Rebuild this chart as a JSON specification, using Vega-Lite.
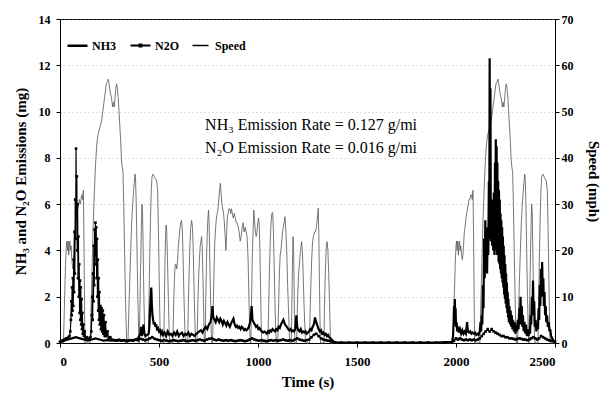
{
"$schema": "https://vega.github.io/schema/vega-lite/v6.json",
"width": 495,
"height": 324,
"autosize": {"type": "none"},
"padding": {"left": 60, "top": 19, "right": 49, "bottom": 54},
"background": "white",
"datasets": {
"speed": [
{"t":0,"v":0},{"t":17,"v":0},{"t":20,"v":4},{"t":24,"v":11},{"t":28,"v":17},{"t":32,"v":21},{"t":35,"v":22},{"t":38,"v":20},{"t":41,"v":22},{"t":44,"v":19},{"t":47,"v":21},{"t":50,"v":22},{"t":53,"v":20},{"t":56,"v":21},{"t":60,"v":18},{"t":64,"v":16},{"t":67,"v":17},{"t":70,"v":21},{"t":74,"v":24},{"t":78,"v":25},{"t":82,"v":27},{"t":86,"v":28},{"t":90,"v":29},{"t":94,"v":30},{"t":98,"v":31},{"t":102,"v":30},{"t":106,"v":31},{"t":110,"v":32},{"t":114,"v":31},{"t":118,"v":33},{"t":121,"v":22},{"t":124,"v":8},{"t":126,"v":0},
{"t":152,"v":0},{"t":156,"v":6},{"t":162,"v":16},{"t":168,"v":26},{"t":174,"v":33},{"t":180,"v":39},{"t":186,"v":43},{"t":192,"v":45},{"t":198,"v":46},{"t":204,"v":47},{"t":210,"v":48},{"t":216,"v":50},{"t":222,"v":52},{"t":228,"v":54},{"t":234,"v":56},{"t":240,"v":56.5},{"t":244,"v":57},{"t":248,"v":56},{"t":254,"v":54},{"t":260,"v":53},{"t":266,"v":51},{"t":270,"v":52},{"t":274,"v":51},{"t":278,"v":53},{"t":282,"v":55},{"t":286,"v":56},{"t":290,"v":55},{"t":294,"v":53},{"t":298,"v":50},{"t":302,"v":47},{"t":306,"v":44},{"t":310,"v":40},{"t":314,"v":38},{"t":318,"v":37},{"t":322,"v":30},{"t":326,"v":20},{"t":330,"v":11},{"t":334,"v":4},{"t":337,"v":0},
{"t":343,"v":0},{"t":347,"v":6},{"t":352,"v":13},{"t":357,"v":20},{"t":362,"v":26},{"t":367,"v":30},{"t":372,"v":33},{"t":376,"v":35},{"t":379,"v":36.5},{"t":382,"v":35},{"t":385,"v":30},{"t":389,"v":20},{"t":393,"v":10},{"t":397,"v":3},{"t":400,"v":0},{"t":403,"v":6},{"t":407,"v":16},{"t":411,"v":25},{"t":414,"v":30},{"t":417,"v":28},{"t":420,"v":20},{"t":424,"v":9},{"t":428,"v":2},{"t":431,"v":0},
{"t":446,"v":0},{"t":449,"v":8},{"t":453,"v":18},{"t":457,"v":27},{"t":461,"v":33},{"t":465,"v":36},{"t":470,"v":36.5},{"t":476,"v":36},{"t":482,"v":35.5},{"t":488,"v":35},{"t":493,"v":33},{"t":497,"v":25},{"t":501,"v":14},{"t":505,"v":4},{"t":508,"v":0},
{"t":524,"v":0},{"t":527,"v":8},{"t":530,"v":17},{"t":533,"v":23},{"t":536,"v":25.5},{"t":539,"v":24},{"t":543,"v":18},{"t":547,"v":10},{"t":551,"v":3},{"t":554,"v":0},
{"t":570,"v":0},{"t":574,"v":8},{"t":578,"v":14},{"t":582,"v":17},{"t":586,"v":17},{"t":590,"v":16},{"t":594,"v":18},{"t":598,"v":21},{"t":602,"v":23},{"t":606,"v":25},{"t":610,"v":26},{"t":614,"v":26.5},{"t":618,"v":24},{"t":622,"v":18},{"t":626,"v":10},{"t":630,"v":4},{"t":634,"v":0},
{"t":645,"v":0},{"t":648,"v":8},{"t":652,"v":15},{"t":656,"v":21},{"t":660,"v":25},{"t":665,"v":26.5},{"t":669,"v":25},{"t":673,"v":20},{"t":677,"v":12},{"t":681,"v":5},{"t":685,"v":0},
{"t":692,"v":0},{"t":696,"v":8},{"t":700,"v":14},{"t":704,"v":18},{"t":708,"v":21},{"t":712,"v":22},{"t":715,"v":23},{"t":718,"v":21},{"t":722,"v":14},{"t":726,"v":6},{"t":729,"v":0},
{"t":733,"v":0},{"t":736,"v":9},{"t":740,"v":18},{"t":744,"v":24},{"t":747,"v":27},{"t":750,"v":28.7},{"t":753,"v":26},{"t":757,"v":17},{"t":761,"v":8},{"t":764,"v":2},{"t":767,"v":0},
{"t":771,"v":0},{"t":774,"v":8},{"t":778,"v":16},{"t":782,"v":22},{"t":786,"v":25},{"t":790,"v":27},{"t":794,"v":28},{"t":798,"v":29},{"t":802,"v":31},{"t":806,"v":33},{"t":810,"v":34.5},{"t":814,"v":32},{"t":818,"v":30},{"t":822,"v":29},{"t":826,"v":28},{"t":830,"v":26},{"t":834,"v":23},{"t":838,"v":20},{"t":841,"v":23},{"t":845,"v":27},{"t":849,"v":28},{"t":853,"v":29},{"t":857,"v":29},{"t":862,"v":28},{"t":866,"v":29},{"t":870,"v":28},{"t":875,"v":27},{"t":880,"v":28},{"t":885,"v":27},{"t":890,"v":26},{"t":895,"v":26},{"t":900,"v":25},{"t":905,"v":24},{"t":910,"v":22},{"t":915,"v":23},{"t":920,"v":25},{"t":925,"v":26},{"t":930,"v":24},{"t":935,"v":25},{"t":940,"v":24},{"t":945,"v":23},{"t":950,"v":18},{"t":954,"v":10},{"t":958,"v":3},{"t":961,"v":0},
{"t":964,"v":0},{"t":967,"v":8},{"t":971,"v":18},{"t":975,"v":24},{"t":979,"v":28.7},{"t":983,"v":26},{"t":987,"v":24},{"t":991,"v":23},{"t":995,"v":24},{"t":999,"v":26},{"t":1003,"v":27},{"t":1007,"v":25},{"t":1011,"v":17},{"t":1015,"v":7},{"t":1018,"v":0},
{"t":1050,"v":0},{"t":1054,"v":8},{"t":1058,"v":16},{"t":1062,"v":22},{"t":1066,"v":26},{"t":1070,"v":28},{"t":1074,"v":28.2},{"t":1078,"v":24},{"t":1082,"v":16},{"t":1086,"v":8},{"t":1090,"v":2},{"t":1093,"v":0},
{"t":1100,"v":0},{"t":1104,"v":8},{"t":1108,"v":15},{"t":1112,"v":19},{"t":1116,"v":20},{"t":1120,"v":22},{"t":1124,"v":24},{"t":1128,"v":25},{"t":1132,"v":26},{"t":1136,"v":27.3},{"t":1140,"v":25},{"t":1145,"v":20},{"t":1150,"v":12},{"t":1155,"v":6},{"t":1160,"v":0},
{"t":1168,"v":0},{"t":1171,"v":8},{"t":1174,"v":17},{"t":1177,"v":23},{"t":1180,"v":20},{"t":1183,"v":10},{"t":1186,"v":0},
{"t":1195,"v":0},{"t":1199,"v":8},{"t":1203,"v":13},{"t":1207,"v":16},{"t":1211,"v":18},{"t":1215,"v":20},{"t":1220,"v":21.9},{"t":1224,"v":20},{"t":1228,"v":15},{"t":1232,"v":9},{"t":1236,"v":4},{"t":1240,"v":0},
{"t":1260,"v":0},{"t":1264,"v":8},{"t":1268,"v":14},{"t":1272,"v":19},{"t":1276,"v":22},{"t":1280,"v":23},{"t":1285,"v":24},{"t":1290,"v":24},{"t":1295,"v":25},{"t":1300,"v":27},{"t":1304,"v":29.1},{"t":1307,"v":24},{"t":1310,"v":14},{"t":1313,"v":5},{"t":1316,"v":0},
{"t":1333,"v":0},{"t":1336,"v":8},{"t":1339,"v":14},{"t":1342,"v":18},{"t":1345,"v":21},{"t":1349,"v":21.9},{"t":1353,"v":20},{"t":1357,"v":15},{"t":1361,"v":9},{"t":1364,"v":4},{"t":1367,"v":0},
{"t":1985,"v":0},{"t":1988,"v":4},{"t":1992,"v":11},{"t":1996,"v":17},{"t":2000,"v":21},{"t":2003,"v":22},{"t":2006,"v":20},{"t":2009,"v":22},{"t":2012,"v":19},{"t":2015,"v":21},{"t":2018,"v":22},{"t":2021,"v":20},{"t":2024,"v":21},{"t":2028,"v":19},{"t":2032,"v":18},{"t":2035,"v":19},{"t":2038,"v":21},{"t":2042,"v":24},{"t":2046,"v":25},{"t":2050,"v":27},{"t":2054,"v":28},{"t":2058,"v":29},{"t":2062,"v":30},{"t":2066,"v":31},{"t":2070,"v":31},{"t":2074,"v":32},{"t":2078,"v":32},{"t":2082,"v":31},{"t":2086,"v":33},{"t":2089,"v":22},{"t":2092,"v":8},{"t":2094,"v":0},
{"t":2120,"v":0},{"t":2124,"v":6},{"t":2130,"v":16},{"t":2136,"v":26},{"t":2142,"v":33},{"t":2148,"v":39},{"t":2154,"v":43},{"t":2160,"v":45},{"t":2166,"v":46},{"t":2172,"v":47},{"t":2178,"v":48},{"t":2184,"v":50},{"t":2190,"v":52},{"t":2196,"v":54},{"t":2202,"v":56},{"t":2208,"v":56.5},{"t":2212,"v":57},{"t":2216,"v":56},{"t":2222,"v":54},{"t":2228,"v":53},{"t":2234,"v":51},{"t":2238,"v":52},{"t":2242,"v":51},{"t":2246,"v":53},{"t":2250,"v":55},{"t":2254,"v":56},{"t":2258,"v":55},{"t":2262,"v":53},{"t":2266,"v":50},{"t":2270,"v":47},{"t":2274,"v":44},{"t":2278,"v":40},{"t":2282,"v":38},{"t":2286,"v":37},{"t":2290,"v":30},{"t":2294,"v":20},{"t":2298,"v":11},{"t":2302,"v":4},{"t":2305,"v":0},
{"t":2311,"v":0},{"t":2315,"v":6},{"t":2320,"v":13},{"t":2325,"v":20},{"t":2330,"v":26},{"t":2335,"v":30},{"t":2340,"v":33},{"t":2344,"v":35},{"t":2347,"v":36.5},{"t":2350,"v":35},{"t":2353,"v":30},{"t":2357,"v":20},{"t":2361,"v":10},{"t":2365,"v":3},{"t":2368,"v":0},{"t":2371,"v":6},{"t":2375,"v":16},{"t":2379,"v":25},{"t":2382,"v":30},{"t":2385,"v":28},{"t":2388,"v":20},{"t":2392,"v":9},{"t":2396,"v":2},{"t":2399,"v":0},
{"t":2414,"v":0},{"t":2417,"v":8},{"t":2421,"v":18},{"t":2425,"v":27},{"t":2429,"v":33},{"t":2433,"v":36},{"t":2438,"v":36.5},{"t":2444,"v":36},{"t":2450,"v":35.5},{"t":2456,"v":35},{"t":2461,"v":33},{"t":2465,"v":25},{"t":2469,"v":14},{"t":2473,"v":4},{"t":2476,"v":0},{"t":2500,"v":0}
],
"nh3": [
{"t":0,"v":0.05},{"t":20,"v":0.1},{"t":40,"v":0.15},{"t":60,"v":0.2},{"t":80,"v":0.25},{"t":100,"v":0.2},{"t":120,"v":0.15},{"t":140,"v":0.1},{"t":160,"v":0.15},{"t":180,"v":0.2},{"t":200,"v":0.15},{"t":220,"v":0.1},{"t":240,"v":0.12},{"t":260,"v":0.1},{"t":280,"v":0.12},{"t":300,"v":0.1},{"t":320,"v":0.12},{"t":340,"v":0.1},{"t":360,"v":0.12},{"t":380,"v":0.15},{"t":395,"v":0.2},{"t":405,"v":0.4},{"t":410,"v":0.7},{"t":414,"v":0.3},{"t":418,"v":0.6},{"t":422,"v":0.8},{"t":426,"v":0.4},{"t":432,"v":0.3},{"t":440,"v":0.35},{"t":448,"v":0.4},{"t":452,"v":0.8},{"t":455,"v":1.5},{"t":458,"v":2.0},{"t":461,"v":2.4},{"t":464,"v":1.6},{"t":467,"v":1.2},{"t":470,"v":1.0},{"t":474,"v":0.8},{"t":478,"v":0.9},{"t":482,"v":0.7},{"t":486,"v":0.8},{"t":490,"v":0.6},{"t":495,"v":0.65},{"t":500,"v":0.5},{"t":505,"v":0.55},{"t":510,"v":0.4},{"t":515,"v":0.5},
{"t":520,"v":0.35},{"t":528,"v":0.45},{"t":536,"v":0.3},{"t":544,"v":0.5},{"t":552,"v":0.35},{"t":560,"v":0.4},{"t":568,"v":0.3},{"t":576,"v":0.45},{"t":584,"v":0.35},{"t":592,"v":0.5},{"t":600,"v":0.3},{"t":608,"v":0.4},{"t":616,"v":0.45},{"t":624,"v":0.3},{"t":632,"v":0.4},{"t":640,"v":0.35},{"t":648,"v":0.45},{"t":656,"v":0.3},{"t":664,"v":0.4},{"t":672,"v":0.35},{"t":680,"v":0.3},{"t":688,"v":0.4},{"t":696,"v":0.45},{"t":704,"v":0.5},{"t":712,"v":0.55},{"t":720,"v":0.45},{"t":728,"v":0.6},{"t":736,"v":0.7},{"t":744,"v":0.6},{"t":752,"v":0.8},{"t":760,"v":0.9},{"t":766,"v":1.2},{"t":770,"v":1.6},{"t":774,"v":1.1},{"t":780,"v":1.0},{"t":786,"v":0.9},{"t":792,"v":1.1},{"t":798,"v":1.0},{"t":804,"v":0.9},{"t":810,"v":1.05},{"t":816,"v":0.95},{"t":822,"v":0.8},{"t":828,"v":0.95},{"t":834,"v":0.85},{"t":840,"v":0.75},{"t":846,"v":0.9},{"t":852,"v":0.8},{"t":858,"v":0.7},{"t":864,"v":0.85},{"t":870,"v":0.95},{"t":876,"v":1.05},{"t":882,"v":0.8},{"t":888,"v":0.7},{"t":894,"v":0.75},{"t":900,"v":0.65},{"t":906,"v":0.7},{"t":912,"v":0.6},{"t":918,"v":0.7},{"t":924,"v":0.65},{"t":930,"v":0.55},{"t":936,"v":0.6},{"t":942,"v":0.55},{"t":948,"v":0.6},{"t":954,"v":0.7},{"t":960,"v":0.9},{"t":965,"v":1.3},{"t":968,"v":1.6},{"t":972,"v":1.0},{"t":978,"v":0.9},{"t":984,"v":0.8},{"t":990,"v":0.7},{"t":996,"v":0.75},{"t":1002,"v":0.6},{"t":1008,"v":0.65},{"t":1014,"v":0.55},{"t":1020,"v":0.5},{"t":1026,"v":0.45},{"t":1032,"v":0.5},{"t":1038,"v":0.45},{"t":1044,"v":0.4},{"t":1050,"v":0.5},{"t":1056,"v":0.45},{"t":1062,"v":0.55},{"t":1068,"v":0.5},{"t":1074,"v":0.6},{"t":1080,"v":0.55},{"t":1086,"v":0.5},{"t":1092,"v":0.6},{"t":1098,"v":0.55},{"t":1104,"v":0.7},{"t":1110,"v":0.65},{"t":1116,"v":0.8},{"t":1122,"v":0.9},{"t":1128,"v":1.0},{"t":1134,"v":0.85},{"t":1140,"v":0.75},{"t":1146,"v":0.7},{"t":1152,"v":0.6},{"t":1158,"v":0.55},{"t":1164,"v":0.6},{"t":1170,"v":0.5},{"t":1176,"v":0.55},{"t":1182,"v":0.5},{"t":1188,"v":0.6},{"t":1194,"v":1.2},{"t":1198,"v":0.7},{"t":1204,"v":0.55},{"t":1210,"v":0.5},{"t":1216,"v":0.6},{"t":1222,"v":0.45},{"t":1228,"v":0.5},{"t":1234,"v":0.45},{"t":1240,"v":0.5},{"t":1246,"v":0.4},{"t":1252,"v":0.45},{"t":1258,"v":0.5},{"t":1264,"v":0.6},{"t":1270,"v":0.55},{"t":1276,"v":0.7},{"t":1282,"v":0.8},{"t":1288,"v":1.1},{"t":1294,"v":0.9},{"t":1300,"v":0.75},{"t":1306,"v":0.6},{"t":1312,"v":0.5},{"t":1318,"v":0.55},{"t":1324,"v":0.4},{"t":1330,"v":0.45},{"t":1336,"v":0.35},{"t":1342,"v":0.4},{"t":1348,"v":0.3},{"t":1354,"v":0.35},{"t":1360,"v":0.25},{"t":1366,"v":0.2},{"t":1372,"v":0.15},{"t":1378,"v":0.1},{"t":1385,"v":0.03},{"t":1500,"v":0.02},{"t":1700,"v":0.02},{"t":1900,"v":0.02},{"t":1980,"v":0.05},
{"t":1985,"v":0.3},{"t":1988,"v":0.9},{"t":1990,"v":1.6},{"t":1992,"v":0.8},{"t":1994,"v":1.9},{"t":1996,"v":1.1},{"t":1998,"v":1.5},{"t":2000,"v":0.7},{"t":2003,"v":0.9},{"t":2006,"v":0.5},{"t":2010,"v":0.7},{"t":2015,"v":0.45},{"t":2020,"v":0.6},{"t":2026,"v":0.4},{"t":2032,"v":0.55},{"t":2038,"v":0.4},{"t":2044,"v":0.5},{"t":2050,"v":0.4},{"t":2056,"v":0.9},{"t":2060,"v":0.5},{"t":2066,"v":0.45},{"t":2072,"v":0.5},{"t":2078,"v":0.4},{"t":2084,"v":0.45},{"t":2090,"v":0.4},{"t":2096,"v":0.45},{"t":2102,"v":0.35},{"t":2108,"v":0.4},{"t":2114,"v":0.35},{"t":2120,"v":0.5},{"t":2124,"v":0.9},{"t":2127,"v":0.5},{"t":2130,"v":1.2},{"t":2133,"v":0.8},{"t":2136,"v":2.5},{"t":2139,"v":1.5},{"t":2142,"v":4.5},{"t":2145,"v":2.8},{"t":2148,"v":5.3},{"t":2151,"v":3.5},{"t":2154,"v":4.5},{"t":2157,"v":3.0},{"t":2160,"v":5.0},{"t":2163,"v":3.8},{"t":2166,"v":7.0},{"t":2168,"v":4.5},{"t":2170,"v":12.3},{"t":2172,"v":5.0},{"t":2174,"v":11.0},{"t":2176,"v":4.4},{"t":2179,"v":6.0},{"t":2182,"v":4.2},{"t":2185,"v":6.2},{"t":2188,"v":4.0},{"t":2191,"v":6.5},{"t":2194,"v":3.8},{"t":2197,"v":7.8},{"t":2199,"v":4.0},{"t":2201,"v":8.8},{"t":2203,"v":4.2},{"t":2205,"v":8.5},{"t":2207,"v":3.8},{"t":2209,"v":7.8},{"t":2211,"v":3.9},{"t":2213,"v":7.0},{"t":2215,"v":3.5},{"t":2217,"v":6.6},{"t":2219,"v":3.4},{"t":2221,"v":6.2},{"t":2223,"v":3.2},{"t":2225,"v":5.6},{"t":2227,"v":3.0},{"t":2229,"v":5.3},{"t":2231,"v":2.8},{"t":2233,"v":5.0},{"t":2235,"v":2.6},{"t":2237,"v":4.6},{"t":2239,"v":2.4},{"t":2241,"v":4.2},{"t":2243,"v":2.1},{"t":2245,"v":3.8},{"t":2247,"v":1.9},{"t":2249,"v":3.4},{"t":2251,"v":1.7},{"t":2253,"v":3.0},{"t":2255,"v":1.5},{"t":2257,"v":2.6},{"t":2259,"v":1.3},{"t":2261,"v":2.2},{"t":2263,"v":1.1},{"t":2265,"v":1.9},{"t":2267,"v":0.9},{"t":2270,"v":1.6},{"t":2273,"v":0.8},{"t":2276,"v":1.4},{"t":2279,"v":0.7},{"t":2282,"v":1.2},{"t":2285,"v":0.6},{"t":2288,"v":1.0},{"t":2292,"v":0.5},{"t":2296,"v":0.9},{"t":2300,"v":0.4},{"t":2304,"v":0.8},{"t":2308,"v":0.5},{"t":2312,"v":1.0},{"t":2316,"v":0.6},{"t":2320,"v":1.5},{"t":2323,"v":0.8},{"t":2326,"v":2.0},{"t":2329,"v":1.0},{"t":2332,"v":1.6},{"t":2335,"v":0.7},{"t":2338,"v":1.2},{"t":2342,"v":0.5},{"t":2346,"v":0.9},{"t":2350,"v":0.4},{"t":2354,"v":0.8},{"t":2358,"v":0.3},{"t":2362,"v":0.6},{"t":2366,"v":0.3},{"t":2370,"v":0.5},{"t":2374,"v":0.4},{"t":2377,"v":1.2},{"t":2380,"v":0.8},{"t":2383,"v":2.0},{"t":2386,"v":1.2},{"t":2389,"v":2.7},{"t":2392,"v":1.3},{"t":2395,"v":1.8},{"t":2398,"v":0.7},{"t":2402,"v":1.0},{"t":2406,"v":0.5},{"t":2410,"v":0.8},{"t":2414,"v":0.6},{"t":2417,"v":1.5},{"t":2420,"v":1.0},{"t":2423,"v":2.5},{"t":2426,"v":1.6},{"t":2429,"v":3.2},{"t":2432,"v":2.0},{"t":2435,"v":3.5},{"t":2438,"v":2.2},{"t":2441,"v":2.8},{"t":2444,"v":1.6},{"t":2447,"v":2.2},{"t":2450,"v":1.2},{"t":2453,"v":1.6},{"t":2456,"v":0.9},{"t":2460,"v":1.2},{"t":2464,"v":0.7},{"t":2468,"v":0.9},{"t":2472,"v":0.5},{"t":2476,"v":0.6},{"t":2480,"v":0.3},{"t":2486,"v":0.2},{"t":2492,"v":0.1},{"t":2500,"v":0.05}
],
"n2o": [
{"t":0,"v":0.05},{"t":6,"v":0.08},{"t":12,"v":0.1},{"t":18,"v":0.12},{"t":24,"v":0.15},{"t":30,"v":0.2},{"t":36,"v":0.2},{"t":42,"v":0.25},{"t":48,"v":0.3},{"t":52,"v":0.5},{"t":55,"v":1.0},{"t":57,"v":1.8},{"t":59,"v":1.2},{"t":61,"v":2.4},{"t":63,"v":1.4},{"t":65,"v":2.8},{"t":67,"v":1.6},{"t":69,"v":3.6},{"t":71,"v":2.2},{"t":73,"v":4.8},{"t":75,"v":3.0},{"t":77,"v":6.2},{"t":79,"v":4.5},{"t":81,"v":8.4},{"t":83,"v":5.5},{"t":85,"v":7.2},{"t":87,"v":4.0},{"t":89,"v":6.0},{"t":91,"v":2.8},{"t":93,"v":4.6},{"t":95,"v":2.0},{"t":97,"v":3.4},{"t":99,"v":1.3},{"t":101,"v":2.7},{"t":103,"v":1.0},{"t":105,"v":2.4},{"t":107,"v":0.8},{"t":109,"v":1.9},{"t":111,"v":0.6},{"t":113,"v":1.3},{"t":115,"v":0.4},{"t":118,"v":0.8},{"t":121,"v":0.3},{"t":125,"v":0.5},{"t":130,"v":0.2},{"t":136,"v":0.25},{"t":142,"v":0.15},{"t":148,"v":0.2},{"t":154,"v":0.25},{"t":158,"v":0.5},{"t":161,"v":1.2},{"t":163,"v":2.0},{"t":165,"v":1.0},{"t":167,"v":3.0},{"t":169,"v":1.8},{"t":171,"v":4.2},{"t":173,"v":2.5},{"t":175,"v":4.9},{"t":177,"v":3.4},{"t":179,"v":5.2},{"t":181,"v":3.8},{"t":183,"v":5.0},{"t":185,"v":2.8},{"t":187,"v":4.5},{"t":189,"v":2.0},{"t":191,"v":3.6},{"t":193,"v":1.4},{"t":195,"v":2.8},{"t":197,"v":1.0},{"t":199,"v":2.2},{"t":201,"v":0.8},{"t":204,"v":1.6},{"t":207,"v":0.6},{"t":210,"v":1.5},{"t":213,"v":0.5},{"t":216,"v":1.4},{"t":219,"v":0.4},{"t":222,"v":1.2},{"t":226,"v":0.3},{"t":230,"v":0.9},{"t":234,"v":0.3},{"t":240,"v":0.5},{"t":246,"v":0.2},{"t":254,"v":0.25},
{"t":262,"v":0.15},{"t":274,"v":0.12},{"t":286,"v":0.1},{"t":298,"v":0.14},{"t":310,"v":0.1},{"t":322,"v":0.12},{"t":334,"v":0.08},{"t":346,"v":0.1},{"t":358,"v":0.12},{"t":370,"v":0.1},{"t":382,"v":0.14},{"t":394,"v":0.12},{"t":406,"v":0.18},{"t":418,"v":0.15},{"t":430,"v":0.12},{"t":442,"v":0.15},{"t":454,"v":0.2},{"t":466,"v":0.25},{"t":478,"v":0.18},{"t":490,"v":0.15},{"t":502,"v":0.12},{"t":514,"v":0.1},{"t":526,"v":0.12},{"t":538,"v":0.1},{"t":550,"v":0.08},{"t":562,"v":0.1},{"t":574,"v":0.12},{"t":586,"v":0.1},{"t":598,"v":0.08},{"t":610,"v":0.1},{"t":622,"v":0.12},{"t":634,"v":0.1},{"t":646,"v":0.08},{"t":658,"v":0.1},{"t":670,"v":0.12},{"t":682,"v":0.1},{"t":694,"v":0.12},{"t":706,"v":0.15},{"t":718,"v":0.12},{"t":730,"v":0.1},{"t":742,"v":0.15},{"t":754,"v":0.18},{"t":766,"v":0.2},{"t":778,"v":0.15},{"t":790,"v":0.12},{"t":802,"v":0.15},{"t":814,"v":0.12},{"t":826,"v":0.1},{"t":838,"v":0.12},{"t":850,"v":0.1},{"t":862,"v":0.12},{"t":874,"v":0.1},{"t":886,"v":0.08},{"t":898,"v":0.1},{"t":910,"v":0.12},{"t":922,"v":0.1},{"t":934,"v":0.08},{"t":946,"v":0.1},{"t":958,"v":0.15},{"t":970,"v":0.2},{"t":982,"v":0.15},{"t":994,"v":0.12},{"t":1006,"v":0.1},{"t":1018,"v":0.12},{"t":1030,"v":0.1},{"t":1042,"v":0.08},{"t":1054,"v":0.1},{"t":1066,"v":0.12},{"t":1078,"v":0.1},{"t":1090,"v":0.12},{"t":1102,"v":0.1},{"t":1114,"v":0.12},{"t":1126,"v":0.15},{"t":1138,"v":0.12},{"t":1150,"v":0.1},{"t":1162,"v":0.12},{"t":1174,"v":0.1},{"t":1186,"v":0.15},{"t":1198,"v":0.2},{"t":1210,"v":0.15},{"t":1222,"v":0.12},{"t":1234,"v":0.1},{"t":1246,"v":0.12},{"t":1258,"v":0.15},{"t":1270,"v":0.25},{"t":1282,"v":0.35},{"t":1294,"v":0.4},{"t":1306,"v":0.3},{"t":1318,"v":0.2},{"t":1330,"v":0.15},{"t":1342,"v":0.12},{"t":1354,"v":0.1},{"t":1366,"v":0.08},{"t":1378,"v":0.05},{"t":1390,"v":0.03},
{"t":1420,"v":0.02},{"t":1460,"v":0.02},{"t":1500,"v":0.02},{"t":1540,"v":0.02},{"t":1580,"v":0.02},{"t":1620,"v":0.02},{"t":1660,"v":0.02},{"t":1700,"v":0.02},{"t":1740,"v":0.02},{"t":1780,"v":0.02},{"t":1820,"v":0.02},{"t":1860,"v":0.02},{"t":1900,"v":0.02},{"t":1940,"v":0.02},{"t":1980,"v":0.03},
{"t":1990,"v":0.1},{"t":2000,"v":0.2},{"t":2010,"v":0.15},{"t":2020,"v":0.2},{"t":2030,"v":0.15},{"t":2040,"v":0.12},{"t":2050,"v":0.15},{"t":2060,"v":0.12},{"t":2070,"v":0.15},{"t":2080,"v":0.12},{"t":2090,"v":0.15},{"t":2100,"v":0.12},{"t":2110,"v":0.15},{"t":2120,"v":0.2},{"t":2130,"v":0.3},{"t":2140,"v":0.4},{"t":2150,"v":0.5},{"t":2160,"v":0.6},{"t":2170,"v":0.5},{"t":2180,"v":0.6},{"t":2190,"v":0.5},{"t":2200,"v":0.45},{"t":2210,"v":0.4},{"t":2220,"v":0.35},{"t":2230,"v":0.3},{"t":2240,"v":0.3},{"t":2250,"v":0.25},{"t":2260,"v":0.25},{"t":2270,"v":0.2},{"t":2280,"v":0.2},{"t":2290,"v":0.18},{"t":2300,"v":0.15},{"t":2310,"v":0.18},{"t":2320,"v":0.2},{"t":2330,"v":0.18},{"t":2340,"v":0.15},{"t":2350,"v":0.15},{"t":2360,"v":0.12},{"t":2370,"v":0.15},{"t":2380,"v":0.2},{"t":2390,"v":0.25},{"t":2400,"v":0.2},{"t":2410,"v":0.15},{"t":2420,"v":0.2},{"t":2430,"v":0.3},{"t":2440,"v":0.25},{"t":2450,"v":0.2},{"t":2460,"v":0.15},{"t":2470,"v":0.12},{"t":2480,"v":0.1},{"t":2490,"v":0.08},{"t":2500,"v":0.05}
],
"notes": [
{"t":1268,"v":9.42,"label":"NH₃ Emission Rate = 0.127 g/mi"},
{"t":1268,"v":8.43,"label":"N₂O Emission Rate = 0.016 g/mi"}
]
},
"encoding": {
"x": {"field":"t","type":"quantitative","title":"Time (s)","scale":{"domain":[0,2500],"nice":false},
 "axis":{"values":[0,500,1000,1500,2000,2500],"format":"d","labelFontSize":13,"labelPadding":8,"titlePadding":6,"titleFontSize":15,"grid":false}}
},
"layer": [
{
"data": {"name":"speed"},
"mark": {"type":"line","color":"#555555","strokeWidth":0.8,"interpolate":"linear"},
"encoding": {
"y": {"field":"v","type":"quantitative","title":"Speed (mph)","scale":{"domain":[0,70],"nice":false},
 "axis":{"orient":"right","values":[0,10,20,30,40,50,60,70],"grid":false,"labelPadding":2,"titlePadding":12,"labelFontSize":12}}
}
},
{
"layer": [
{
"data": {"name":"nh3"},
"mark": {"type":"line","color":"black","strokeWidth":2.2},
"encoding": {
"y": {"field":"v","type":"quantitative","title":"NH₃ and N₂O Emissions (mg)","scale":{"domain":[0,14],"nice":false},
 "axis":{"orient":"left","values":[0,2,4,6,8,10,12,14],"grid":true,"gridColor":"#aaaaaa","gridDash":[1,3],"gridWidth":0.7,"labelPadding":6,"titlePadding":10,"labelFontSize":12}}
}
},
{
"data": {"name":"n2o"},
"mark": {"type":"line","color":"black","strokeWidth":1.2},
"encoding": {
"y": {"field":"v","type":"quantitative","title":"NH₃ and N₂O Emissions (mg)","scale":{"domain":[0,14],"nice":false}}
}
},
{
"data": {"name":"n2o"},
"mark": {"type":"point","shape":"square","filled":true,"size":7,"color":"black","opacity":1},
"encoding": {
"y": {"field":"v","type":"quantitative","title":"NH₃ and N₂O Emissions (mg)","scale":{"domain":[0,14],"nice":false}}
}
},
{
"data": {"name":"n2o"},
"mark": {"type":"point","filled":false,"color":"black","opacity":0},
"encoding": {
"y": {"field":"v","type":"quantitative","title":"NH₃ and N₂O Emissions (mg)","scale":{"domain":[0,14],"nice":false}},
"shape": {"datum":"N2O","type":"nominal","scale":{"domain":["NH3","N2O","Speed"],"range":["M-1,0H1","M-1,0H1M-0.1,-0.1H0.1V0.1H-0.1Z","M-0.8,0H0.8"]},
 "legend":{"orient":"none","legendX":6,"legendY":15,"direction":"horizontal","columns":3,"title":null,"symbolSize":400,"symbolStrokeColor":"black","symbolOpacity":1,"columnPadding":10,"labelOffset":3}},
"strokeWidth": {"datum":"N2O","type":"nominal","scale":{"domain":["NH3","N2O","Speed"],"range":[2.5,1.5,0.7]},
 "legend":{"orient":"none","legendX":6,"legendY":15,"direction":"horizontal","columns":3,"title":null,"symbolSize":400,"symbolStrokeColor":"black","symbolOpacity":1,"columnPadding":10,"labelOffset":3}}
}
},
{
"data": {"name":"notes"},
"mark": {"type":"text","font":"Liberation Serif","fontSize":16,"align":"center","baseline":"middle","color":"black"},
"encoding": {
"y": {"field":"v","type":"quantitative","title":"NH₃ and N₂O Emissions (mg)","scale":{"domain":[0,14],"nice":false}},
"text": {"field":"label"}
}
}
]
}
],
"resolve": {"scale":{"y":"independent"},"axis":{"y":"independent"}},
"config": {
"view": {"stroke":"black","strokeWidth":1},
"font": "Liberation Serif",
"axis": {"labelFont":"Liberation Serif","labelFontWeight":"bold","labelColor":"black","titleFont":"Liberation Serif","titleFontWeight":"bold","titleFontSize":15,"titleColor":"black","domainColor":"black","tickColor":"black","tickSize":4},
"legend": {"labelFont":"Liberation Serif","labelFontWeight":"bold","labelFontSize":12,"labelColor":"black"}
}
}
